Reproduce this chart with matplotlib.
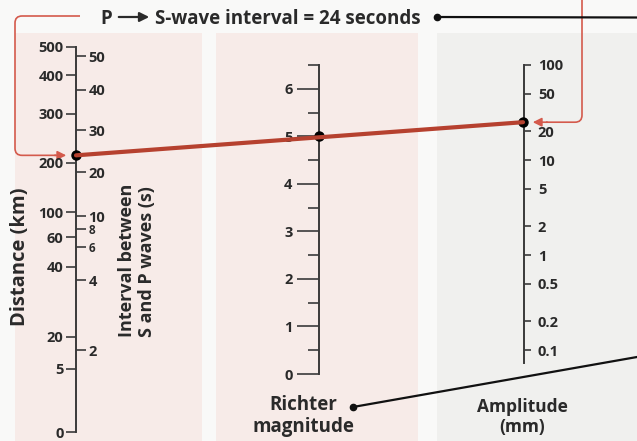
import matplotlib.pyplot as plt
import numpy as np
from matplotlib.patches import ConnectionPatch, Rectangle, PathPatch
from matplotlib.path import Path
from matplotlib.ticker import FixedLocator, NullLocator

# nomogram scales (fraction = height along the scale)
distance_km = [0, 5, 20, 40, 60, 100, 200, 300, 400, 500]
distance_frac = [0, 0.164, 0.247, 0.429, 0.506, 0.571, 0.699, 0.826, 0.927, 1.0]
interval_s = [0, 2, 4, 6, 8, 10, 20, 30, 40, 50]
interval_frac = [0, 0.218, 0.404, 0.492, 0.540, 0.574, 0.691, 0.803, 0.910, 1.0]
interval_ticks = [2, 4, 6, 8, 10, 20, 30, 40, 50]
magnitude_ticks = [0, 1, 2, 3, 4, 5, 6]
amplitude_ticks = [0.1, 0.2, 0.5, 1, 2, 5, 10, 20, 50, 100]
amplitude_labels = ['0.1', '0.2', '0.5', '1', '2', '5', '10', '20', '50', '100']

# the worked example
sp_interval = 24
amplitude_mm = 25
magnitude = 5

W, H = 637, 441
TXT = '#2a2a2a'
AXC = '#3a3a3a'
RED = '#b6412f'
RED2 = '#d45a4c'

plt.rcParams['font.family'] = ['Open Sans', 'DejaVu Sans']
plt.rcParams['font.weight'] = 'bold'
plt.rcParams['text.color'] = TXT

fig = plt.figure(figsize=(W / 100, H / 100), dpi=100)
fig.patch.set_facecolor('#f9f9f8')

bg = fig.add_axes([0, 0, 1, 1], zorder=0)
bg.set_xlim(0, W)
bg.set_ylim(H, 0)
bg.axis('off')
bg.add_patch(Rectangle((15, 33), 187, 410, color='#f7ebe8', lw=0))
bg.add_patch(Rectangle((216, 33), 202, 410, color='#f7ebe8', lw=0))
bg.add_patch(Rectangle((437, 33), 200, 410, color='#f0f0ee', lw=0))


def pix_axes(x, top, bottom, w=1.0):
    a = fig.add_axes([x / W, 1 - bottom / H, w / W, (bottom - top) / H], zorder=2)
    a.patch.set_visible(False)
    for s in a.spines.values():
        s.set_visible(False)
    a.set_xticks([])
    a.set_xlim(0, 1)
    return a


def interp_scale(vals, fracs):
    vals = np.asarray(vals, float)
    fracs = np.asarray(fracs, float)
    return (lambda v: np.interp(v, vals, fracs),
            lambda p: np.interp(p, fracs, vals))


# distance (left side of the left scale)
ax_d = pix_axes(76, 47, 432)
ax_d.set_yscale('function', functions=interp_scale(distance_km, distance_frac))
ax_d.set_ylim(0, 500)
ax_d.spines['left'].set_visible(True)
ax_d.spines['left'].set_color(AXC)
ax_d.spines['left'].set_linewidth(1.4)
ax_d.yaxis.set_major_locator(FixedLocator(distance_km))
ax_d.yaxis.set_minor_locator(NullLocator())
ax_d.set_yticklabels([str(v) for v in distance_km])
ax_d.tick_params(axis='y', direction='out', length=7, width=1.2, color=AXC,
                 pad=2, labelsize=10.5, labelcolor=TXT)

# S-P interval (right side of the left scale)
ax_i = pix_axes(75, 56, 432)
ax_i.set_yscale('function', functions=interp_scale(interval_s, interval_frac))
ax_i.set_ylim(0, 50)
ax_i.yaxis.tick_right()
ax_i.yaxis.set_major_locator(FixedLocator(interval_ticks))
ax_i.yaxis.set_minor_locator(NullLocator())
ax_i.set_yticklabels([str(v) for v in interval_ticks])
ax_i.tick_params(axis='y', direction='out', length=7, width=1.2, color=AXC,
                 pad=2, labelsize=10.5, labelcolor=TXT)
for t, v in zip(ax_i.get_yticklabels(), interval_ticks):
    if v in (6, 8):
        t.set_fontsize(8.5)

# Richter magnitude
ax_m = pix_axes(319, 65, 374)
ax_m.set_ylim(0, 6.5)
ax_m.spines['left'].set_visible(True)
ax_m.spines['left'].set_color(AXC)
ax_m.spines['left'].set_linewidth(1.4)
ax_m.yaxis.set_major_locator(FixedLocator(magnitude_ticks))
ax_m.yaxis.set_minor_locator(FixedLocator(np.arange(0.5, 7, 1)))
ax_m.tick_params(axis='y', which='major', direction='out', length=16, width=1.2,
                 color=AXC, pad=3, labelsize=10.5, labelcolor=TXT)
ax_m.tick_params(axis='y', which='minor', direction='out', length=8, width=1.2,
                 color=AXC)

# amplitude
ax_a = pix_axes(523, 65, 363)
ax_a.set_yscale('log')
ax_a.set_ylim(0.073, 100)
ax_a.yaxis.tick_right()
ax_a.spines['right'].set_visible(True)
ax_a.spines['right'].set_color(AXC)
ax_a.spines['right'].set_linewidth(1.4)
ax_a.yaxis.set_major_locator(FixedLocator(amplitude_ticks))
ax_a.yaxis.set_minor_locator(NullLocator())
ax_a.set_yticklabels(amplitude_labels)
ax_a.tick_params(axis='y', direction='out', length=5, width=1.2, color=AXC,
                 pad=5, labelsize=10.5, labelcolor=TXT)

# straight edge through the three scales
con = ConnectionPatch(xyA=(1, sp_interval), coordsA=ax_i.transData,
                      xyB=(0, amplitude_mm), coordsB=ax_a.transData,
                      color=RED, lw=3.0, zorder=3)
fig.add_artist(con)
ax_i.plot(1, sp_interval, 'o', color='k', ms=6.5, clip_on=False, zorder=6)
ax_m.plot(0, magnitude, 'o', color='k', ms=6.5, clip_on=False, zorder=6)
ax_a.plot(0, amplitude_mm, 'o', color='k', ms=6.5, clip_on=False, zorder=6)


def to_bg(ax, x, y):
    return bg.transData.inverted().transform(ax.transData.transform((x, y)))


# red brackets leading to the two readings
r = 7
yd = to_bg(ax_i, 1, sp_interval)[1]
verts = [(80, 16), (15 + r, 16), (15, 16), (15, 16 + r), (15, yd - r), (15, yd),
         (15 + r, yd), (56, yd)]
codes = [Path.MOVETO, Path.LINETO, Path.CURVE3, Path.CURVE3, Path.LINETO,
         Path.CURVE3, Path.CURVE3, Path.LINETO]
bg.add_patch(PathPatch(Path(verts, codes), fill=False, ec=RED2, lw=1.2))
bg.annotate('', xy=(69, yd), xytext=(52, yd),
            arrowprops=dict(arrowstyle='-|>', color=RED2, lw=1.2, mutation_scale=13))

ya = to_bg(ax_a, 0, amplitude_mm)[1]
verts = [(582, 0), (582, ya - r), (582, ya), (582 - r, ya), (546, ya)]
codes = [Path.MOVETO, Path.LINETO, Path.CURVE3, Path.CURVE3, Path.LINETO]
bg.add_patch(PathPatch(Path(verts, codes), fill=False, ec=RED2, lw=1.2))
bg.annotate('', xy=(530, ya), xytext=(550, ya),
            arrowprops=dict(arrowstyle='-|>', color=RED2, lw=1.2, mutation_scale=13))

# titles and pointers
bg.text(100, 24, 'P', ha='left', va='baseline', fontsize=13.5)
bg.annotate('', xy=(152, 17), xytext=(116, 17),
            arrowprops=dict(arrowstyle='-|>', color=TXT, lw=1.6, mutation_scale=14))
bg.text(155, 24, f'S-wave interval = {sp_interval} seconds', ha='left',
        va='baseline', fontsize=13.5)
bg.plot([437, 637], [17, 17.5], color='#111111', lw=1.6)
bg.plot(437, 17, 'o', color='#111111', ms=4.5)

bg.text(20, 257, 'Distance (km)', rotation=90, ha='center', va='center',
        fontsize=14.5)
bg.text(137, 337, 'Interval between\nS and P waves (s)', rotation=90,
        ha='center', va='bottom', multialignment='left', fontsize=13,
        linespacing=1.1)
bg.text(303, 416, 'Richter\nmagnitude', ha='center', va='center', fontsize=13.5,
        linespacing=1.1)
bg.plot([353, 637], [407, 357], color='#111111', lw=1.6)
bg.plot(353, 407, 'o', color='#111111', ms=4.5)
bg.text(522, 417, 'Amplitude\n(mm)', ha='center', va='center', fontsize=12.5,
        linespacing=1.1)

fig.savefig('out.png', dpi=100)
